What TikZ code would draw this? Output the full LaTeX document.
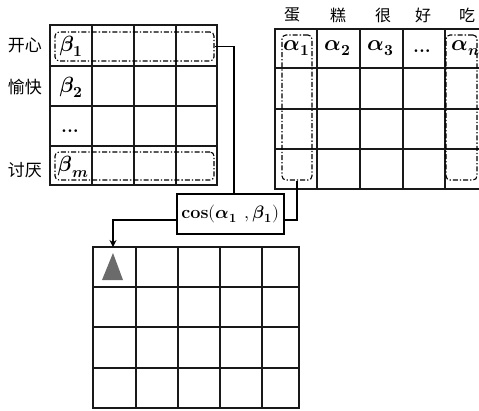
\documentclass[tikz,border=0pt]{standalone}
\usepackage{fontspec}
\usepackage{unicode-math}
\setmathfont{Latin Modern Math}
\newfontfamily\cjk{Noto Sans CJK SC}
\usetikzlibrary{arrows.meta}
\tikzset{
  grid/.style={line width=1.3pt, black!90},
  dbox/.style={draw, line width=1.1pt, rounded corners=4pt, dash pattern=on 5pt off 2pt on 1.3pt off 2pt, inner sep=0pt},
  wire/.style={line width=1.2pt},
  zh/.style={font=\cjk\fontsize{17}{18}\selectfont, inner sep=0pt},
  hd/.style={font=\cjk\fontsize{16}{18}\selectfont, inner sep=0pt},
  gk/.style={font=\fontsize{22}{24}\selectfont, inner sep=0pt},
  dots/.style={font=\bfseries\fontsize{19}{20}\selectfont, inner sep=0pt},
}
\begin{document}
\begin{tikzpicture}[x=1pt,y=-1pt]
\useasboundingbox (0,0) rectangle (479,410);
\begin{scope}
\clip (0,0) rectangle (479,410);
% left matrix
\draw[grid] (50,25) rectangle (217,185);
\foreach \x in {92,134,176} \draw[grid] (\x,25) -- (\x,185);
\foreach \y in {66,106,146} \draw[grid] (50,\y) -- (217,\y);
% right matrix
\draw[grid] (275,29) rectangle (490,189);
\foreach \x in {317,360,403,445} \draw[grid] (\x,29) -- (\x,189);
\foreach \y in {68,109,149} \draw[grid] (275,\y) -- (490,\y);
% bottom matrix
\draw[grid] (93,247) rectangle (299,408);
\foreach \x in {136,178,220,262} \draw[grid] (\x,247) -- (\x,408);
\foreach \y in {287,327,368} \draw[grid] (93,\y) -- (299,\y);

% row labels
\node[zh] (l1) at (25,45) {开心};
\node[zh] (l2) at (25,87) {愉快};
\node[zh] (l3) at (25,170) {讨厌};
% column headers
\node[hd] (h1) at (292,15) {蛋};
\node[hd] (h2) at (338,15) {糕};
\node[hd] (h3) at (383,15) {很};
\node[hd] (h4) at (423,15) {好};
\node[hd] (h5) at (467,15) {吃};

% greek entries
\node[gk] (b1) at (71,46) {$\symbfit{\beta}_{\symbf{1}}$};
\node[gk] (b2) at (71,87) {$\symbfit{\beta}_{\symbf{2}}$};
\node[dots] (bd) at (70,131) {...};
\node[gk] (bm) at (73,167) {$\symbfit{\beta}_{\symbfit{m}}$};
\node[gk] (a1) at (297,48) {$\symbfit{\alpha}_{\symbf{1}}$};
\node[gk] (a2) at (338,48) {$\symbfit{\alpha}_{\symbf{2}}$};
\node[gk] (a3) at (381,48) {$\symbfit{\alpha}_{\symbf{3}}$};
\node[dots] (ad) at (422,51) {...};
\node[gk] (an) at (466,48) {$\symbfit{\alpha}_{\symbfit{n}}$};

% dashed selections
\node[dbox, minimum width=159pt, minimum height=29pt] (r1) at (134.5,46.5) {};
\node[dbox, minimum width=159pt, minimum height=28pt] (rm) at (134.5,166) {};
\node[dbox, minimum width=30pt, minimum height=145pt] (c1) at (297,107.5) {};
\node[dbox, minimum width=31pt, minimum height=145pt] (cn) at (461.5,107.5) {};
\end{scope}

% cos box
\node[draw, line width=1.2pt, minimum width=107pt, minimum height=40pt, inner sep=0pt,
      font=\fontsize{18}{20}\selectfont] (cos) at (230.5,214)
      {\textbf{cos}$(\symbfit{\alpha}_{\symbf{1}}\;\,,\symbfit{\beta}_{\symbf{1}})$};

\coordinate (t1) at (234,194);
\coordinate (cr) at (284,220);
\coordinate (cl) at (177,220);
\coordinate (g1) at (113,247);

\draw[wire] (r1.east) -| (t1);
\draw[wire] (c1.south) |- (cr);
\draw[wire, -{Stealth[length=7pt,width=7pt]}] (cl) -| (g1);

% triangle marker
\fill[black!58] (113,253) -- (123,280) -- (102,280) -- cycle;
\end{tikzpicture}
\end{document}
